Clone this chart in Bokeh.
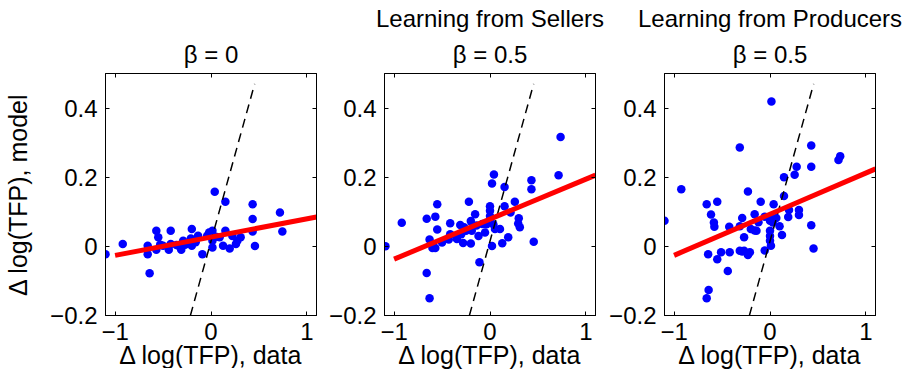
from bokeh.plotting import figure
from bokeh.layouts import row
from bokeh.models import LinearAxis, FixedTicker, Range1d, Title
from bokeh.embed import file_html
from bokeh.resources import INLINE

FONT = "Liberation Sans"
TICK_FS = "24px"
LABEL_FS = "25px"
TITLE_FS = "24px"

# ---------------- data ----------------
x_ticks = [-1, 0, 1]
x_tick_labels = ["−1", "0", "1"]
y_ticks = [-0.2, 0, 0.2, 0.4]
y_tick_labels = ["−0.2", "0", "0.2", "0.4"]

x_label = "Δ log(TFP), data"
y_label = "Δ log(TFP), model"

titles_1 = ["β = 0"]
titles_2 = ["Learning from Sellers", "β = 0.5"]
titles_3 = ["Learning from Producers", "β = 0.5"]

# 45-degree reference line (dashed)
diag_x = [-0.215, 0.455]
diag_y = [-0.2, 0.47]

# fitted regression lines (red)
fit_x = [-1.0, 1.1]
fit_y_1 = [-0.026, 0.085]
fit_y_2 = [-0.037, 0.206]
fit_y_3 = [-0.026, 0.224]

# panel 1: beta = 0
x1 = [-1.10, -0.92, -0.66, -0.66, -0.64, -0.57, -0.55, -0.57, -0.53, -0.50,
      -0.42, -0.44, -0.42, -0.36, -0.32, -0.31, -0.29, -0.27, -0.20, -0.20,
      -0.21, -0.16, -0.135, -0.09, -0.04, 0.015, 0.015, 0.015, 0.039, 0.15,
      0.15, 0.126, 0.09, 0.05, 0.195, 0.223, 0.275, 0.309, 0.26, 0.434,
      0.434, 0.434, 0.458, 0.719, 0.744, -0.02]
y1 = [-0.023, 0.007, 0.002, -0.023, -0.078, 0.045, 0.026, -0.010, 0.005, 0.002,
      0.045, -0.010, 0.007, 0.004, -0.003, -0.010, 0.016, 0.005, 0.050, 0.002,
      0.023, 0.012, 0.031, -0.023, 0.031, 0.045, -0.003, 0.016, 0.158, 0.129,
      0.045, 0.002, 0.026, 0.028, -0.006, 0.030, 0.016, 0.026, 0.007, 0.122,
      0.079, 0.043, 0.001, 0.098, 0.043, 0.040]

# panel 2: learning from sellers, beta = 0.5
x2 = [-1.09, -0.92, -0.66, -0.63, -0.66, -0.57, -0.55, -0.55, -0.63, -0.60,
      -0.57, -0.50, -0.415, -0.415, -0.43, -0.31, -0.345, -0.28, -0.22, -0.155,
      -0.20, -0.11, -0.20, -0.19, -0.25, -0.27, -0.30, 0.736, 0.715, 0.432,
      0.432, 0.456, 0.041, 0.021, 0.152, 0.259, 0.152, 0.214, 0.30, 0.294,
      0.311, 0.0, 0.0, 0.0, 0.035, -0.052, -0.036, 0.104, 0.052, 0.19,
      0.128, 0.021, -0.14, -0.12, -0.08]
y2 = [0.000, 0.068, -0.077, -0.150, 0.080, 0.086, 0.122, 0.049, 0.020, -0.005,
      -0.005, 0.011, 0.067, 0.035, 0.020, 0.062, 0.021, 0.010, 0.129, 0.093,
      0.073, -0.046, 0.008, 0.045, 0.045, 0.055, 0.035, 0.316, 0.206, 0.191,
      0.165, 0.013, 0.208, 0.182, 0.172, 0.129, 0.116, 0.098, 0.081, 0.066,
      0.055, 0.116, 0.103, 0.088, 0.064, 0.040, 0.064, 0.050, 0.050, 0.026,
      0.009, 0.001, 0.060, 0.030, 0.065]

# panel 3: learning from producers, beta = 0.5
x3 = [-1.10, -0.925, -0.315, -0.66, -0.55, -0.615, -0.585, -0.58, -0.645, -0.55,
      -0.51, -0.42, -0.44, -0.64, -0.66, -0.425, -0.315, -0.29, -0.23, -0.27,
      -0.315, -0.27, -0.21, -0.16, -0.20, -0.16, -0.23, -0.29, 0.015, 0.43,
      0.43, 0.43, 0.454, 0.732, 0.714, 0.278, 0.257, 0.146, 0.146, 0.302,
      0.302, 0.198, 0.19, 0.038, -0.097, -0.055, 0.0, 0.066, 0.0, 0.03,
      0.10, 0.125, 0.0, 0.0, 0.0, 0.01, -0.055, -0.141, -0.12]
y3 = [0.074, 0.165, 0.286, 0.122, 0.129, 0.092, 0.069, 0.057, -0.023, -0.037,
      -0.017, -0.017, -0.071, -0.126, -0.150, 0.057, 0.058, 0.082, 0.159, 0.026,
      -0.013, -0.013, -0.017, 0.093, 0.050, 0.046, -0.025, -0.015, 0.419, 0.292,
      0.230, 0.061, -0.006, 0.261, 0.250, 0.230, 0.207, 0.200, 0.146, 0.105,
      0.091, 0.105, 0.085, 0.122, 0.129, 0.086, 0.085, 0.082, 0.074, 0.069,
      0.058, 0.033, 0.045, 0.030, 0.016, 0.002, -0.012, 0.045, 0.070]


def style_axis(ax, ticks, labels, show_labels=True, standoff=7):
    ax.ticker = FixedTicker(ticks=ticks)
    ax.major_tick_in = 4
    ax.major_tick_out = 0
    ax.minor_tick_in = 0
    ax.minor_tick_out = 0
    ax.major_tick_line_color = "black"
    ax.axis_line_color = "black"
    ax.major_label_text_font = FONT
    ax.major_label_text_color = "black"
    if show_labels:
        ax.major_label_overrides = dict(zip(ticks, labels))
        ax.major_label_text_font_size = TICK_FS
        ax.major_label_standoff = standoff
    else:
        ax.major_label_overrides = {t: "" for t in ticks}
        ax.major_label_text_font_size = "0px"
        ax.major_label_standoff = 0


def make_panel(xs, ys, fit_y, titles, show_ylabel, bl, br):
    p = figure(frame_width=211, frame_height=242,
               x_range=Range1d(-1.1, 1.1), y_range=Range1d(-0.2, 0.5),
               output_backend="svg", toolbar_location=None, title=None,
               min_border_left=bl, min_border_right=br,
               min_border_top=70, min_border_bottom=0)
    p.xgrid.visible = False
    p.ygrid.visible = False
    p.outline_line_color = "black"
    p.outline_line_alpha = 1.0
    p.outline_line_width = 1
    p.background_fill_color = "white"
    p.border_fill_color = "white"

    style_axis(p.xaxis[0], x_ticks, x_tick_labels, standoff=7)
    p.xaxis.axis_label = x_label
    p.xaxis.axis_label_text_font = FONT
    p.xaxis.axis_label_text_font_size = LABEL_FS
    p.xaxis.axis_label_text_font_style = "normal"
    p.xaxis.axis_label_text_color = "black"
    p.xaxis.axis_label_standoff = -2

    style_axis(p.yaxis[0], y_ticks, y_tick_labels, standoff=8)
    if show_ylabel:
        p.yaxis.axis_label = y_label
        p.yaxis.axis_label_text_font = FONT
        p.yaxis.axis_label_text_font_size = LABEL_FS
        p.yaxis.axis_label_text_font_style = "normal"
        p.yaxis.axis_label_text_color = "black"
        p.yaxis.axis_label_standoff = 15

    top = LinearAxis()
    style_axis(top, x_ticks, x_tick_labels, show_labels=False)
    right = LinearAxis()
    style_axis(right, y_ticks, y_tick_labels, show_labels=False)
    p.add_layout(top, "above")
    p.add_layout(right, "right")

    standoffs = [11, 4]
    for i, t in enumerate(reversed(titles)):
        p.add_layout(Title(text=t, align="center", text_font=FONT,
                           text_font_size=TITLE_FS, text_font_style="normal",
                           text_line_height=1.0, text_color="black",
                           standoff=standoffs[i]), "above")

    p.scatter(xs, ys, size=8.5, fill_color="blue", line_color=None)
    p.line(diag_x, diag_y, line_color="black", line_width=1.5, line_dash="9 6")
    p.line(fit_x, fit_y, line_color="red", line_width=5)
    return p


p1 = make_panel(x1, y1, fit_y_1, titles_1, True, 105, 10)
p2 = make_panel(x2, y2, fit_y_2, titles_2, False, 58, 11)
p3 = make_panel(x3, y3, fit_y_3, titles_3, False, 58, 40)

layout = row(p1, p2, p3)
open("out.html", "w").write(file_html(layout, INLINE))
